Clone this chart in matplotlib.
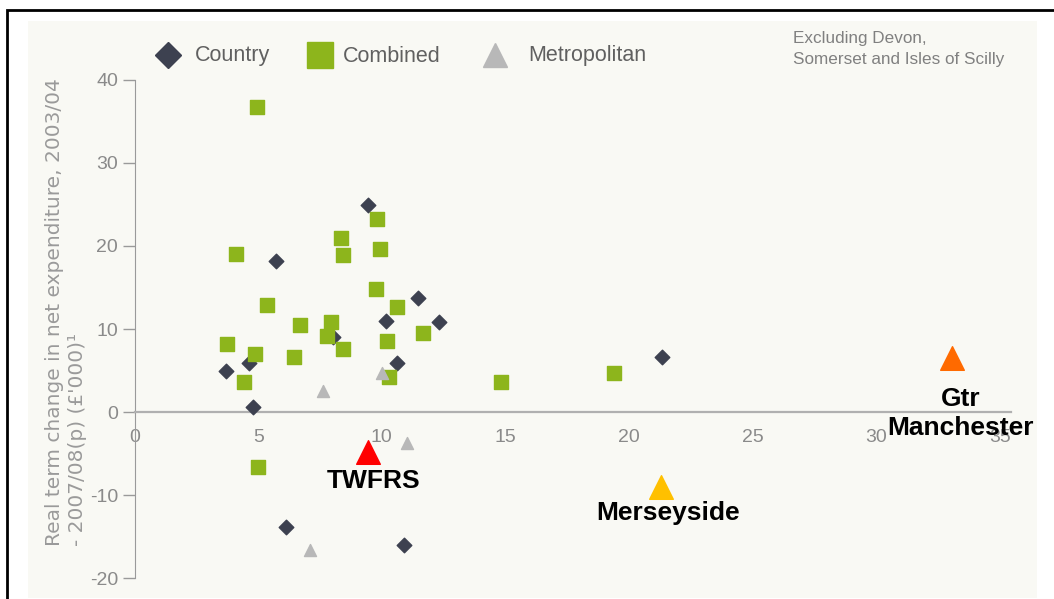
import matplotlib.pyplot as plt
from matplotlib.patches import Rectangle
from matplotlib.lines import Line2D

plt.rcParams['font.family'] = ['Liberation Sans', 'DejaVu Sans']
plt.rcParams['axes.unicode_minus'] = False

# data
country_x = [9.45, 5.73, 11.48, 10.18, 12.33, 10.63, 4.64, 3.70, 4.80, 8.04, 21.32, 6.13, 10.91]
country_y = [24.9, 18.2, 13.7, 11.0, 10.8, 5.9, 5.9, 4.9, 0.6, 9.0, 6.6, -13.9, -16.0]

combined_x = [4.96, 9.82, 8.36, 9.94, 4.11, 8.44, 9.78, 5.36, 10.63, 6.70, 7.96, 7.79,
              8.44, 11.68, 10.22, 3.75, 4.88, 6.46, 4.43, 10.30, 5.0, 14.84, 19.41]
combined_y = [36.7, 23.2, 21.0, 19.6, 19.0, 18.9, 14.8, 12.9, 12.6, 10.5, 10.8, 9.2,
              7.6, 9.5, 8.5, 8.2, 7.0, 6.6, 3.6, 4.2, -6.6, 3.6, 4.7]

metro_x = [7.63, 10.02, 11.03, 7.11]
metro_y = [2.5, 4.7, -3.7, -16.6]

highlight_names = ['TWFRS', 'Merseyside', 'Gtr\nManchester']
highlight_x = [9.45, 21.28, 33.06]
highlight_y = [-4.8, -9.0, 6.5]
highlight_colors = ['#ff0000', '#ffc000', '#ff6a00']
highlight_offsets = [(4, -21), (5, -19), (6, -40)]

x_ticks = [0, 5, 10, 15, 20, 25, 30, 35]
y_ticks = [-20, -10, 0, 10, 20, 30, 40]

legend_labels = ['Country', 'Combined', 'Metropolitan']
legend_markers = ['D', 's', '^']
legend_colors = ['#3d4150', '#8db51c', '#b8b8b8']
legend_sizes = [13, 19, 17]

fig = plt.figure(figsize=(10.54, 5.99), dpi=100)
W, H = 1054, 599

# black frame
fig.patches.append(Rectangle((7 / W, -0.05), 1.1, 1 - 10 / H + 0.05, transform=fig.transFigure,
                             fill=False, edgecolor='black', linewidth=2))

ax = fig.add_axes([28 / W, 1 / H, 1009 / W, 577 / H])
ax.set_facecolor('#f9f9f4')
ax.set_xlim(-4.31, 36.5)
ax.set_ylim(-22.4, 47.1)

ax.scatter(country_x, country_y, marker='D', s=55, color='#3d4150', zorder=3)
ax.scatter(combined_x, combined_y, marker='s', s=105, color='#8db51c', zorder=3)
ax.scatter(metro_x, metro_y, marker='^', s=75, color='#b8b8b8', zorder=3)

for name, x, y, c, off in zip(highlight_names, highlight_x, highlight_y,
                              highlight_colors, highlight_offsets):
    ax.scatter([x], [y], marker='^', s=290, color=c, zorder=4)
    ax.annotate(name, (x, y), xytext=off, textcoords='offset points',
                ha='center', va='center', fontsize=19, fontweight='bold',
                color='black', linespacing=1.25, zorder=5)

for s in ['top', 'right']:
    ax.spines[s].set_visible(False)
ax.spines['left'].set_position(('data', 0))
ax.spines['left'].set_bounds(-20, 40)
ax.spines['left'].set_color('#9a9a9a')
ax.spines['bottom'].set_position(('data', 0))
ax.spines['bottom'].set_bounds(0, 35.45)
ax.spines['bottom'].set_color('#b0b0b0')
ax.spines['bottom'].set_linewidth(1.6)

ax.set_xticks(x_ticks)
ax.set_yticks(y_ticks)
ax.tick_params(axis='x', length=0, pad=12.5, labelsize=14, labelcolor='#8a8a8a')
ax.tick_params(axis='y', length=9, width=1, color='#9a9a9a', pad=3,
               labelsize=14, labelcolor='#8a8a8a')

fig.text(66 / W, 1 - 546 / H,
         "Real term change in net expenditure, 2003/04\n- 2007/08(p) (\u00a3'000)\u00b9",
         rotation=90, ha='center', va='bottom', ma='left', fontsize=14.5,
         family='DejaVu Sans', color='#9a9a9a', linespacing=1.3)

# legend, placed by hand
leg_marker_x = [168, 320, 495]
leg_text_x = [195, 343, 528]
for m, c, ms, mx, tx, lab in zip(legend_markers, legend_colors, legend_sizes,
                                 leg_marker_x, leg_text_x, legend_labels):
    fig.add_artist(Line2D([mx / W], [1 - 55 / H], marker=m, color=c, markersize=ms,
                          linestyle='', transform=fig.transFigure))
    fig.text(tx / W, 1 - 56 / H, lab, ha='left', va='center', fontsize=15.5,
             color='#606060')

fig.text(793 / W, 1 - 49 / H, 'Excluding Devon,\nSomerset and Isles of Scilly',
         ha='left', va='center', fontsize=12.3, color='#808080', linespacing=1.45)

fig.savefig('out.png', dpi=100, facecolor='white')
